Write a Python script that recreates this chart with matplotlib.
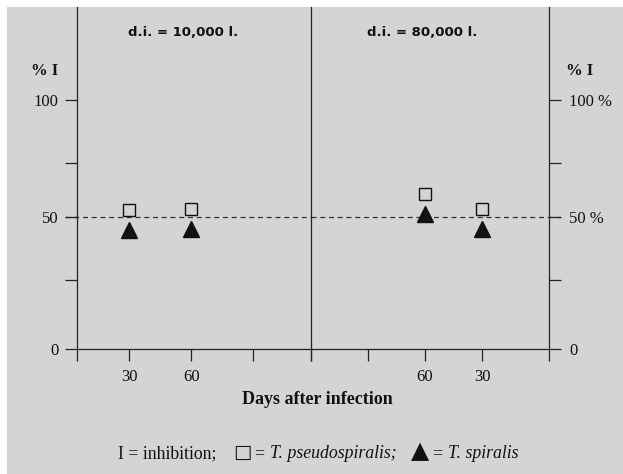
import numpy as np
import matplotlib
matplotlib.use('Agg')
import matplotlib.pyplot as plt
from matplotlib.patches import Rectangle

# ============================================================================
# DADOS
# ============================================================================
dias_esq = [30, 60]            # d.i. = 10,000 l.
pseudo_esq = [53.3, 53.8]
spiralis_esq = [44.9, 45.1]

dias_dir = [60, 30]            # d.i. = 80,000 l. (eixo invertido)
pseudo_dir = [60.6, 53.7]
spiralis_dir = [51.2, 45.2]

y_ticks = [0, 25, 50, 75, 100]
y_labels_esq = ['0', '', '50', '', '100']
y_labels_dir = ['0', '', '50 %', '', '100 %']
x_ticks = [30, 60, 90]
x_labels_esq = ['30', '60', '']
x_labels_dir = ['30', '60', '']
titulos = ['d.i. = 10,000 l.', 'd.i. = 80,000 l.']

# ============================================================================
# ESTILO
# ============================================================================
plt.rcParams['font.family'] = ['Liberation Serif', 'DejaVu Serif']
cor_fundo = '#d4d4d4'
cor_linha = '#222222'
W, H = 623, 474

# eixo y desenhado à mão: marcas com espaçamento irregular
escala_val = [0, 25, 50, 75, 100, 140]
escala_pos = [0, 69, 132.5, 186, 249, 350]


def fwd(v):
    return np.interp(v, escala_val, escala_pos)


def inv(p):
    return np.interp(p, escala_pos, escala_val)


fig = plt.figure(figsize=(W / 100, H / 100), dpi=100)
fig.patch.set_facecolor('white')
fig.add_artist(Rectangle((7 / W, 0), 1, (H - 7) / H, transform=fig.transFigure,
                         facecolor=cor_fundo, edgecolor='none', zorder=-10))

ax1 = fig.add_axes([77 / W, 125 / H, 234 / W, 342 / H])
ax2 = fig.add_axes([311 / W, 125 / H, 238 / W, 342 / H])

for ax in (ax1, ax2):
    ax.set_facecolor('none')
    ax.set_yscale('function', functions=(fwd, inv))
    ax.set_ylim(0, 137)
    ax.spines['top'].set_visible(False)
    for s in ax.spines.values():
        s.set_color(cor_linha)
        s.set_linewidth(0.9)
    ax.tick_params(direction='out', length=8.5, width=0.9, color=cor_linha,
                   labelsize=12, labelcolor='#111111', pad=5)
    ax.yaxis.set_minor_locator(matplotlib.ticker.NullLocator())
    ax.xaxis.set_minor_locator(matplotlib.ticker.NullLocator())

ax1.set_xlim(4.8, 118)
ax2.set_xlim(120, -5.3)
ax2.spines['left'].set_visible(False)

# ticks do eixo x (incluindo as bordas dos painéis)
lim1 = ax1.get_xlim()
ax1.set_xticks([lim1[0]] + x_ticks + [lim1[1]])
ax1.set_xticklabels([''] + x_labels_esq + [''])
lim2 = ax2.get_xlim()
ax2.set_xticks([lim2[1]] + x_ticks + [lim2[0]])
ax2.set_xticklabels([''] + x_labels_dir + [''])
ax1.tick_params(axis='x', pad=6)
ax2.tick_params(axis='x', pad=6)

ax1.set_yticks(y_ticks)
ax1.set_yticklabels(y_labels_esq)
ax2.yaxis.tick_right()
ax2.set_yticks(y_ticks)
ax2.set_yticklabels(y_labels_dir)
ax2.tick_params(axis='y', pad=6)

# linha tracejada em 50 %
ax1.axhline(50, xmin=-12 / 234, xmax=1, color='#333333', lw=0.9,
            ls=(0, (4, 3)), clip_on=False, zorder=1)
ax2.axhline(50, xmin=0, xmax=1 + 11 / 238, color='#333333', lw=0.9,
            ls=(0, (4, 3)), clip_on=False, zorder=1)

# pontos
for ax, dias, ps, sp in [(ax1, dias_esq, pseudo_esq, spiralis_esq),
                         (ax2, dias_dir, pseudo_dir, spiralis_dir)]:
    ax.plot(dias, ps, 's', ms=8.5, mfc='none', mec='#111111', mew=1.0,
            clip_on=False, zorder=3)
    ax.plot(dias, sp, '^', ms=11.5, color='#111111', clip_on=False, zorder=3)

# textos
fig.text(183 / W, (H - 33) / H, titulos[0], family='DejaVu Sans',
         fontweight='bold', fontsize=9.5, ha='center', va='center', color='#111111')
fig.text(422 / W, (H - 33) / H, titulos[1], family='DejaVu Sans',
         fontweight='bold', fontsize=9.5, ha='center', va='center', color='#111111')
fig.text(45 / W, (H - 75) / H, '% I', fontweight='bold', fontsize=12,
         ha='center', va='baseline', color='#111111')
fig.text(580 / W, (H - 75) / H, '% I', fontweight='bold', fontsize=12,
         ha='center', va='baseline', color='#111111')
fig.text(317 / W, (H - 404) / H, 'Days after infection', fontweight='bold',
         fontsize=13, ha='center', va='baseline', color='#111111')

# legenda em linha
r = fig.canvas.get_renderer()
glifo = {'family': 'DejaVu Sans'}
partes = [
    ('I = inhibition;', {}, 12.8, 17),
    ('\u25a1', glifo, 14, 2),
    ('=', {}, 12.8, 6),
    ('T. pseudospiralis;', {'style': 'italic'}, 12.8, 15),
    ('\u25b2', glifo, 17, 3),
    ('=', {}, 12.8, 6),
    ('T. spiralis', {'style': 'italic'}, 12.8, 0),
]
x = 118 / W
y = (H - 458) / H
for s, kw, fs, gap in partes:
    t = fig.text(x, y, s, fontsize=fs, va='baseline', color='#111111', **kw)
    x = (t.get_window_extent(r).x1 + gap) / fig.bbox.width

fig.savefig('out.png', dpi=100, facecolor=fig.get_facecolor())
